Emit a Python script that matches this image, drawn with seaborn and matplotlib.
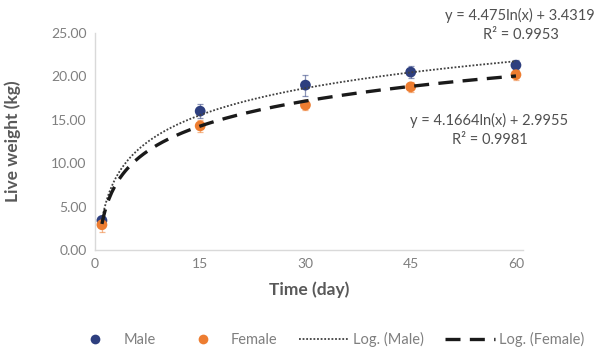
import numpy as np
import pandas as pd
import matplotlib
matplotlib.use("Agg")
import matplotlib.pyplot as plt
import seaborn as sns
from matplotlib.lines import Line2D

# Sampling days and mean live weights (kg)
days = [1, 15, 30, 45, 60]
male_weight = [3.4, 16.0, 19.0, 20.5, 21.3]
female_weight = [2.9, 14.3, 16.7, 18.8, 20.2]
male_err = [0.4, 0.8, 1.2, 0.7, 0.6]
female_err = [0.8, 0.7, 0.6, 0.6, 0.6]

# Logarithmic trend coefficients y = a*ln(x) + b, with R²
male_fit = (4.475, 3.4319, 0.9953)
female_fit = (4.1664, 2.9955, 0.9981)

x_ticks = [0, 15, 30, 45, 60]
y_ticks = [0, 5, 10, 15, 20, 25]

sns.set_theme(style="white")
plt.rcParams["font.family"] = ["Lato", "DejaVu Sans"]

male_color = "#2E3F7F"
female_color = "#ED7D31"
grey_text = "#7F7F7F"
male_ls = (0, (1, 1))
female_ls = (0, (4.5, 2.8))

fig = plt.figure(figsize=(5.97, 3.52), dpi=100)
ax = fig.add_axes([0.159, 0.290, 0.717, 0.616])

df = pd.DataFrame({
    "day": days * 2,
    "weight": male_weight + female_weight,
    "err": male_err + female_err,
    "sex": ["Male"] * 5 + ["Female"] * 5,
})

# Error bars
for sex, col in [("Male", male_color), ("Female", female_color)]:
    sub = df[df["sex"] == sex]
    ax.errorbar(sub["day"], sub["weight"], yerr=sub["err"], fmt="none",
                ecolor=col, elinewidth=0.9, capsize=2, capthick=0.9,
                alpha=0.55, zorder=2)

# Logarithmic trend lines
xs = np.linspace(1, 60, 300)
male_trend = pd.DataFrame({"day": xs, "weight": male_fit[0] * np.log(xs) + male_fit[1]})
female_trend = pd.DataFrame({"day": xs, "weight": female_fit[0] * np.log(xs) + female_fit[1]})
sns.lineplot(data=male_trend, x="day", y="weight", ax=ax, color="#404040",
             linewidth=1.3, linestyle=male_ls, zorder=4, legend=False)
sns.lineplot(data=female_trend, x="day", y="weight", ax=ax, color="#1A1A1A",
             linewidth=2.4, linestyle=female_ls, zorder=4, legend=False)

# Observed means
sns.scatterplot(data=df, x="day", y="weight", hue="sex",
                palette={"Male": male_color, "Female": female_color},
                s=60, edgecolor="none", ax=ax, zorder=3, legend=False)

ax.set_xlim(0, 61)
ax.set_ylim(0, 25)
ax.set_xticks(x_ticks)
ax.set_yticks(y_ticks)
ax.set_yticklabels([f"{v:.2f}" for v in y_ticks])
ax.tick_params(axis="both", labelsize=10, colors=grey_text, length=0, pad=6)
for side in ["top", "right"]:
    ax.spines[side].set_visible(False)
for side in ["left", "bottom"]:
    ax.spines[side].set_color("#D9D9D9")
    ax.spines[side].set_linewidth(1.0)

ax.set_xlabel("Time (day)", fontsize=12.5, fontweight="bold", color="#595959", labelpad=8)
ax.set_ylabel("Live weight (kg)", fontsize=12.5, fontweight="bold", color="#595959", labelpad=22)

# Trend equations
eq_kw = dict(fontsize=10.5, color="#505050", ha="center", va="center")
fig.text(0.870, 0.957, f"y = {male_fit[0]}ln(x) + {male_fit[1]}", **eq_kw)
fig.text(0.872, 0.900, f"R² = {male_fit[2]}", **eq_kw)
fig.text(0.819, 0.659, f"y = {female_fit[0]}ln(x) + {female_fit[1]}", **eq_kw)
fig.text(0.821, 0.602, f"R² = {female_fit[2]}", **eq_kw)

handles = [
    Line2D([], [], marker="o", linestyle="none", markersize=7,
           markerfacecolor=male_color, markeredgecolor="none", label="Male"),
    Line2D([], [], marker="o", linestyle="none", markersize=7,
           markerfacecolor=female_color, markeredgecolor="none", label="Female"),
    Line2D([], [], color="#404040", linewidth=1.3, linestyle=male_ls, label="Log. (Male)"),
    Line2D([], [], color="#1A1A1A", linewidth=2.4, linestyle=female_ls, label="Log. (Female)"),
]
leg = fig.legend(handles=handles, loc="center", bbox_to_anchor=(0.548, 0.035),
                 ncol=4, frameon=False, fontsize=10.5, handlelength=3.4,
                 columnspacing=1.5, handletextpad=0.25)
for t in leg.get_texts():
    t.set_color(grey_text)

fig.savefig("out.png", dpi=100)
